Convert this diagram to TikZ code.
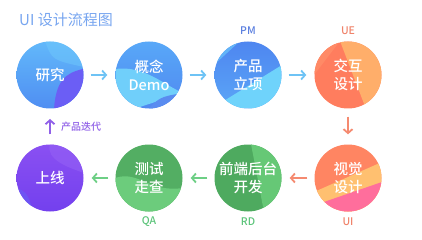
\documentclass[tikz,border=0pt]{standalone}
\usepackage{fontspec}
\newfontfamily\cjk{Noto Sans CJK SC}
\newfontfamily\cjkm{Noto Sans CJK SC Medium}
\usetikzlibrary{arrows.meta}
\definecolor{titleblue}{HTML}{78A6F0}
\definecolor{arrblue}{HTML}{6EC3F5}
\definecolor{arrsalmon}{HTML}{F58A70}
\definecolor{arrgreen}{HTML}{6DCF85}
\definecolor{arrpurple}{HTML}{9060E8}
\definecolor{pmblue}{HTML}{5B7FE0}
\definecolor{uesalmon}{HTML}{F0836A}
\definecolor{qagreen}{HTML}{5CC47A}
\definecolor{aA}{HTML}{62B8FA}
\definecolor{aB}{HTML}{4F8EF2}
\definecolor{aC}{HTML}{6B5EF5}
\definecolor{aD}{HTML}{6FC8FB}
\definecolor{bA}{HTML}{58A8F8}
\definecolor{bB}{HTML}{5088F0}
\definecolor{bC}{HTML}{70CFFA}
\definecolor{bD}{HTML}{5A8CF0}
\definecolor{cA}{HTML}{4E86F0}
\definecolor{cB}{HTML}{5BA6F7}
\definecolor{cC}{HTML}{62B4F8}
\definecolor{cD}{HTML}{6FD3FB}
\definecolor{dA}{HTML}{FF7D5E}
\definecolor{dB}{HTML}{FFAE6A}
\definecolor{dC}{HTML}{FF8A66}
\definecolor{eA}{HTML}{FF8562}
\definecolor{eB}{HTML}{FFC070}
\definecolor{eC}{HTML}{FF6E9C}
\definecolor{fA}{HTML}{4EAA5F}
\definecolor{fB}{HTML}{66C876}
\definecolor{gA}{HTML}{53AE63}
\definecolor{gB}{HTML}{6CCC7C}
\definecolor{hA}{HTML}{8A50F2}
\definecolor{hB}{HTML}{7340EE}
\definecolor{hC}{HTML}{9460F5}
\definecolor{hD}{HTML}{6A5CF5}
\tikzset{
  stage/.style={circle, minimum size=67pt, inner sep=0pt, text=white,
    font=\cjkm\fontsize{14.5}{18}\selectfont, align=center},
  flow/.style={-{Straight Barb[length=4pt,width=9pt]}, line width=1.8pt},
  role/.style={font=\cjkm\fontsize{10.5}{12}\selectfont},
}
\def\pc{path picture bounding box.center}
\begin{document}
\begin{tikzpicture}[x=1pt,y=-1pt]
\useasboundingbox (0,0) rectangle (422,240);
\fill[white] (0,0) rectangle (422,240);
\node[anchor=base west, text=titleblue, font=\cjk\fontsize{15}{17}\selectfont, inner sep=0pt] (title) at (19,26) {UI 设计流程图};

% row 1
\node[stage, top color=aA, bottom color=aB, path picture={
  \fill[aC] ([shift={(33,-6)}]\pc) .. controls ([shift={(15,-2)}]\pc) and ([shift={(6,6)}]\pc) .. ([shift={(4,34)}]\pc) -- ([shift={(40,40)}]\pc) -- cycle;
  \fill[aD, opacity=0.5] ([shift={(-5,-34)}]\pc) .. controls ([shift={(2,-15)}]\pc) .. ([shift={(34,-8)}]\pc) -- ([shift={(34,-34)}]\pc) -- cycle;
}] (c1) at (50,75) {研究};

\node[stage, top color=bA, bottom color=bB, path picture={
  \fill[bC] ([shift={(-34,-6)}]\pc) .. controls ([shift={(-5,-10)}]\pc) and ([shift={(15,10)}]\pc) .. ([shift={(34,18)}]\pc) -- ([shift={(-34,40)}]\pc) -- cycle;
  \fill[bD] ([shift={(34,18)}]\pc) .. controls ([shift={(10,22)}]\pc) .. ([shift={(-6,40)}]\pc) -- ([shift={(34,40)}]\pc) -- cycle;
}] (c2) at (149,75) {概念\\Demo};

\node[stage, top color=cA, bottom color=cB, path picture={
  \fill[cC] ([shift={(-34,-10)}]\pc) -- ([shift={(-8,-34)}]\pc) -- ([shift={(-34,-34)}]\pc) -- cycle;
  \fill[cD] ([shift={(-34,32)}]\pc) -- ([shift={(34,-10)}]\pc) -- ([shift={(34,34)}]\pc) -- cycle;
}] (c3) at (248,75) {产品\\立项};

\node[stage, fill=dA, path picture={
  \fill[dB] ([shift={(-8,-34)}]\pc) -- ([shift={(18,34)}]\pc) -- ([shift={(34,34)}]\pc) -- ([shift={(34,-34)}]\pc) -- cycle;
  \fill[dC] ([shift={(-34,-34)}]\pc) -- ([shift={(-8,-34)}]\pc) -- ([shift={(-34,0)}]\pc) -- cycle;
}] (c4) at (348,75) {交互\\设计};

% row 2
\node[stage, fill=eA, path picture={
  \fill[eB] ([shift={(-34,14)}]\pc) -- ([shift={(34,-16)}]\pc) -- ([shift={(34,34)}]\pc) -- ([shift={(-34,34)}]\pc) -- cycle;
  \fill[eC] ([shift={(-30,26)}]\pc) -- ([shift={(34,4)}]\pc) -- ([shift={(34,34)}]\pc) -- ([shift={(-34,34)}]\pc) -- cycle;
}] (c5) at (348,178) {视觉\\设计};

\node[stage, fill=fA, path picture={
  \fill[fB] ([shift={(3,-34)}]\pc) -- ([shift={(16,34)}]\pc) -- ([shift={(34,34)}]\pc) -- ([shift={(34,-34)}]\pc) -- cycle;
}] (c6) at (248,178) {前端后台\\开发};

\node[stage, fill=gA, path picture={
  \fill[gB] ([shift={(-34,0)}]\pc) .. controls ([shift={(-10,-8)}]\pc) and ([shift={(0,15)}]\pc) .. ([shift={(34,10)}]\pc) -- ([shift={(34,34)}]\pc) -- ([shift={(-34,34)}]\pc) -- cycle;
}] (c7) at (149,178) {测试\\走查};

\node[stage, top color=hA, bottom color=hB, path picture={
  \fill[hC, opacity=0.6] ([shift={(0,-34)}]\pc) .. controls ([shift={(-5,-18)}]\pc) and ([shift={(20,-10)}]\pc) .. ([shift={(34,-5)}]\pc) -- ([shift={(34,-34)}]\pc) -- cycle;
  \fill[hD, opacity=0.7] ([shift={(-34,10)}]\pc) .. controls ([shift={(-15,15)}]\pc) and ([shift={(-25,30)}]\pc) .. ([shift={(-10,34)}]\pc) -- ([shift={(-34,34)}]\pc) -- cycle;
}] (c8) at (50,178) {上线};

% role labels
\node[role, text=pmblue] (pm) at (248,31) {PM};
\node[role, text=uesalmon] (ue) at (348,31) {UE};
\node[role, text=qagreen] (qa) at (149,222) {QA};
\node[role, text=qagreen] (rd) at (248,222) {RD};
\node[role, text=uesalmon] (ui) at (348,222) {UI};

% connectors
\draw[flow, arrblue, shorten <=7pt, shorten >=8pt] (c1) -- (c2);
\draw[flow, arrblue, shorten <=7pt, shorten >=8pt] (c2) -- (c3);
\draw[flow, arrblue, shorten <=7pt, shorten >=8pt] (c3) -- (c4);
\draw[flow, arrsalmon, shorten <=8pt, shorten >=10pt] (c4) -- (c5);
\draw[flow, arrsalmon, shorten <=7pt, shorten >=8pt] (c5) -- (c6);
\draw[flow, arrgreen, shorten <=7pt, shorten >=8pt] (c6) -- (c7);
\draw[flow, arrgreen, shorten <=7pt, shorten >=8pt] (c7) -- (c8);
\coordinate (iter) at (50,119);
\draw[flow, arrpurple, shorten <=10pt] (c8) -- (iter);
\node[anchor=west, text=arrpurple, font=\cjkm\fontsize{10}{11}\selectfont, inner sep=0pt] (iterlabel) at (61,127) {产品迭代};
\end{tikzpicture}
\end{document}
